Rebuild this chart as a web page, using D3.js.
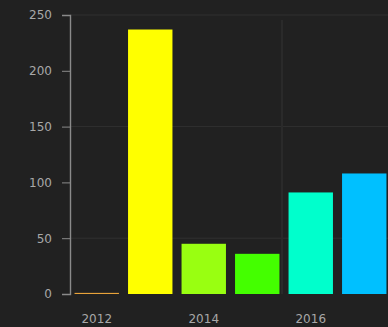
<!DOCTYPE html>
<html>
<head>
<meta charset="utf-8">
<script src="https://cdn.jsdelivr.net/npm/d3@7"></script>
<style>
  html, body { margin: 0; padding: 0; background: #212121; }
  svg { display: block; }
</style>
</head>
<body>
<svg id="chart" width="388" height="327"></svg>
<script>
// data
const years = [2012, 2013, 2014, 2015, 2016, 2017];
const values = [1, 237, 45, 36, 91, 108];
const barColors = ["#e8a33a", "#ffff00", "#99ff11", "#44ff00", "#00ffcc", "#00c0ff"];
const yTicks = [0, 50, 100, 150, 200, 250];
const gridTicks = [50, 150, 250];
const xTickYears = [2012, 2014, 2016];

const svg = d3.select("#chart");
const width = +svg.attr("width");
const height = +svg.attr("height");

const x = d3.scaleBand()
    .domain(years)
    .range([70, 391])
    .paddingInner(0.17)
    .paddingOuter(0.085);

const y = d3.scaleLinear()
    .domain([0, 250])
    .range([294, 15]);

// faint grid
svg.append("g")
    .selectAll("line")
    .data(gridTicks)
    .join("line")
    .attr("x1", 70).attr("x2", width)
    .attr("y1", d => y(d)).attr("y2", d => y(d))
    .attr("stroke", "#303030")
    .attr("stroke-width", 1);

svg.append("line")
    .attr("x1", 282).attr("x2", 282)
    .attr("y1", 20).attr("y2", 294)
    .attr("stroke", "#2a2a2a")
    .attr("stroke-width", 2);

// bars
svg.append("g")
    .selectAll("rect")
    .data(years)
    .join("rect")
    .attr("x", d => x(d))
    .attr("width", x.bandwidth())
    .attr("y", (d, i) => y(values[i]))
    .attr("height", (d, i) => y(0) - y(values[i]))
    .attr("fill", (d, i) => barColors[i]);

// y axis
const yAxis = svg.append("g")
    .attr("transform", "translate(70,0)")
    .call(d3.axisLeft(y).tickValues(yTicks).tickSize(8).tickPadding(10));
yAxis.select(".domain").attr("stroke", "#8a8a8a").attr("stroke-width", 1.4);
yAxis.selectAll(".tick line").attr("stroke", "#8a8a8a");
yAxis.selectAll(".tick text")
    .attr("fill", "#a8a8a8")
    .attr("font-family", "DejaVu Sans, sans-serif")
    .attr("font-size", 12);

// x axis
const xAxis = svg.append("g")
    .attr("transform", "translate(0,294)")
    .call(d3.axisBottom(x).tickValues(xTickYears).tickSize(0).tickPadding(20));
xAxis.select(".domain").remove();
xAxis.selectAll(".tick text")
    .attr("fill", "#a8a8a8")
    .attr("font-family", "DejaVu Sans, sans-serif")
    .attr("font-size", 12);
</script>
</body>
</html>
